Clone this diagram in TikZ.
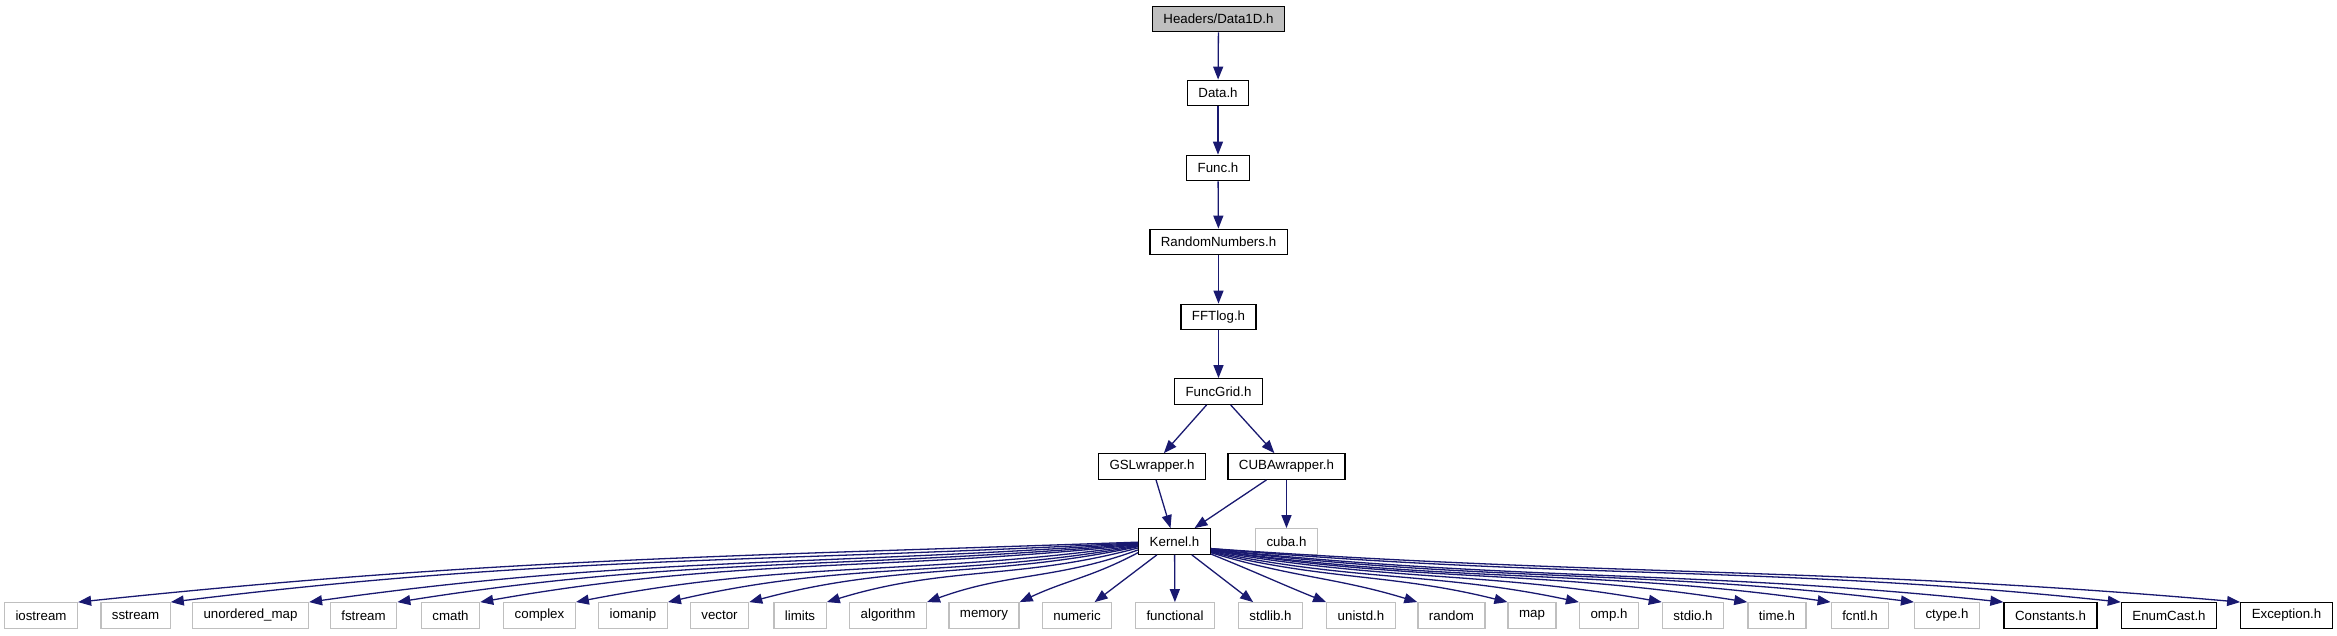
\documentclass[tikz,border=0pt]{standalone}
\usepackage{fontspec}
\setmainfont{Liberation Sans}
\usetikzlibrary{arrows.meta}

\definecolor{edgeblue}{HTML}{191970}
\definecolor{boxgray}{HTML}{BFBFBF}

\begin{document}
\begin{tikzpicture}[x=1pt, y=1pt,
    file/.style={draw=black, line width=1.3pt, fill=white, inner xsep=11pt, inner ysep=0pt,
        minimum height=25.5pt, font=\fontsize{13.3}{15}\selectfont},
    sysfile/.style={file, draw=boxgray},
    rootfile/.style={file, fill=boxgray},
    dep/.style={draw=edgeblue, line width=1.3pt, -{Triangle[length=13pt,width=10pt]}}]
    \useasboundingbox (0,0) rectangle (2337,-635);

    % include chain
    \node[rootfile] (data1d) at (1218.5,-19) {Headers/Data1D.h};
    \node[file] (data) at (1218,-93) {Data.h};
    \node[file] (func) at (1218,-168) {Func.h};
    \node[file] (randnum) at (1218.5,-242) {RandomNumbers.h};
    \node[file] (fftlog) at (1218.5,-317) {FFTlog.h};
    \node[file] (funcgrid) at (1218.5,-391.5) {FuncGrid.h};
    \node[file] (gslwrapper) at (1152,-466.5) {GSLwrapper.h};
    \node[file] (cubawrapper) at (1286.5,-466.5) {CUBAwrapper.h};
    \node[file] (kernel) at (1174.5,-541.5) {Kernel.h};
    \node[sysfile] (cubah) at (1286.5,-541.5) {cuba.h};

    % headers included by Kernel.h
    \node[sysfile] (iostream) at (41,-615.5) {iostream};
    \node[sysfile] (sstream) at (135.5,-615.5) {sstream};
    \node[sysfile] (unorderedmap) at (250.5,-615.5) {unordered\_map};
    \node[sysfile] (fstream) at (363.5,-615.5) {fstream};
    \node[sysfile] (cmath) at (450.5,-615.5) {cmath};
    \node[sysfile] (complex) at (539.5,-615.5) {complex};
    \node[sysfile] (iomanip) at (633,-615.5) {iomanip};
    \node[sysfile] (vector) at (719.5,-615.5) {vector};
    \node[sysfile] (limits) at (800,-615.5) {limits};
    \node[sysfile] (algorithm) at (888,-615.5) {algorithm};
    \node[sysfile] (memory) at (984,-615.5) {memory};
    \node[sysfile] (numeric) at (1077,-615.5) {numeric};
    \node[sysfile] (functional) at (1175,-615.5) {functional};
    \node[sysfile] (stdlibh) at (1270.5,-615.5) {stdlib.h};
    \node[sysfile] (unistdh) at (1361,-615.5) {unistd.h};
    \node[sysfile] (randomlib) at (1451.5,-615.5) {random};
    \node[sysfile] (map) at (1532,-615.5) {map};
    \node[sysfile] (omph) at (1609,-615.5) {omp.h};
    \node[sysfile] (stdioh) at (1693,-615.5) {stdio.h};
    \node[sysfile] (timeh) at (1777,-615.5) {time.h};
    \node[sysfile] (fcntlh) at (1860,-615.5) {fcntl.h};
    \node[sysfile] (ctypeh) at (1947,-615.5) {ctype.h};
    \node[file] (constants) at (2050.5,-615.5) {Constants.h};
    \node[file] (enumcast) at (2169,-615.5) {EnumCast.h};
    \node[file] (exception) at (2286.5,-615.5) {Exception.h};

    \draw[dep] (data1d) -- (data);
    \draw[dep] (data) -- (func);
    \draw[dep] (func) -- (randnum);
    \draw[dep] (randnum) -- (fftlog);
    \draw[dep] (fftlog) -- (funcgrid);
    \draw[dep] (funcgrid) -- (gslwrapper);
    \draw[dep] (funcgrid) -- (cubawrapper);
    \draw[dep] (gslwrapper) -- (kernel);
    \draw[dep] (cubawrapper) -- (kernel);
    \draw[dep] (cubawrapper) -- (cubah);

    % left fan
    \draw[dep] (kernel.181) .. controls +(182:416) and +(6:414) .. (iostream.north east);
    \draw[dep] (kernel.182) .. controls +(183:379) and +(7:379) .. (sstream.north east);
    \draw[dep] (kernel.183) .. controls +(184:326) and +(8:326) .. (unorderedmap.north east);
    \draw[dep] (kernel.184) .. controls +(185:291) and +(9:291) .. (fstream.north east);
    \draw[dep] (kernel.185) .. controls +(186:258) and +(10:258) .. (cmath.north east);
    \draw[dep] (kernel.186) .. controls +(188:221) and +(11:221) .. (complex.north east);
    \draw[dep] (kernel.187) .. controls +(190:186) and +(13:186) .. (iomanip.north east);
    \draw[dep] (kernel.188) .. controls +(192:154) and +(15:154) .. (vector.north east);
    \draw[dep] (kernel.190) .. controls +(195:125) and +(17:125) .. (limits.north east);
    \draw[dep] (kernel.193) .. controls +(200:87) and +(20:87) .. (algorithm.north east);
    \draw[dep] (kernel.197) .. controls +(208:52) and +(25:52) .. (memory.north east);
    \draw[dep] (kernel) -- (numeric);
    \draw[dep] (kernel) -- (functional);
    \draw[dep] (kernel) -- (stdlibh);

    % right fan
    \draw[dep] (kernel.-19) .. controls +(-22:50) and +(158:50) .. (unistdh.north west);
    \draw[dep] (kernel.-17) .. controls +(-17:85) and +(163:85) .. (randomlib.north west);
    \draw[dep] (kernel.-16) .. controls +(-14:119) and +(166:119) .. (map.north west);
    \draw[dep] (kernel.-15) .. controls +(-12:145) and +(168:145) .. (omph.north west);
    \draw[dep] (kernel.-14) .. controls +(-10:178) and +(170:178) .. (stdioh.north west);
    \draw[dep] (kernel.-13) .. controls +(-9:211) and +(171:211) .. (timeh.north west);
    \draw[dep] (kernel.-13) .. controls +(-8:243) and +(172:243) .. (fcntlh.north west);
    \draw[dep] (kernel.-12) .. controls +(-7:276) and +(173:276) .. (ctypeh.north west);
    \draw[dep] (kernel.-12) .. controls +(-6:311) and +(174:311) .. (constants.north west);
    \draw[dep] (kernel.-11) .. controls +(-5:357) and +(174:357) .. (enumcast.north west);
    \draw[dep] (kernel.-11) .. controls +(-4:404) and +(175:404) .. (exception.north west);
\end{tikzpicture}
\end{document}
